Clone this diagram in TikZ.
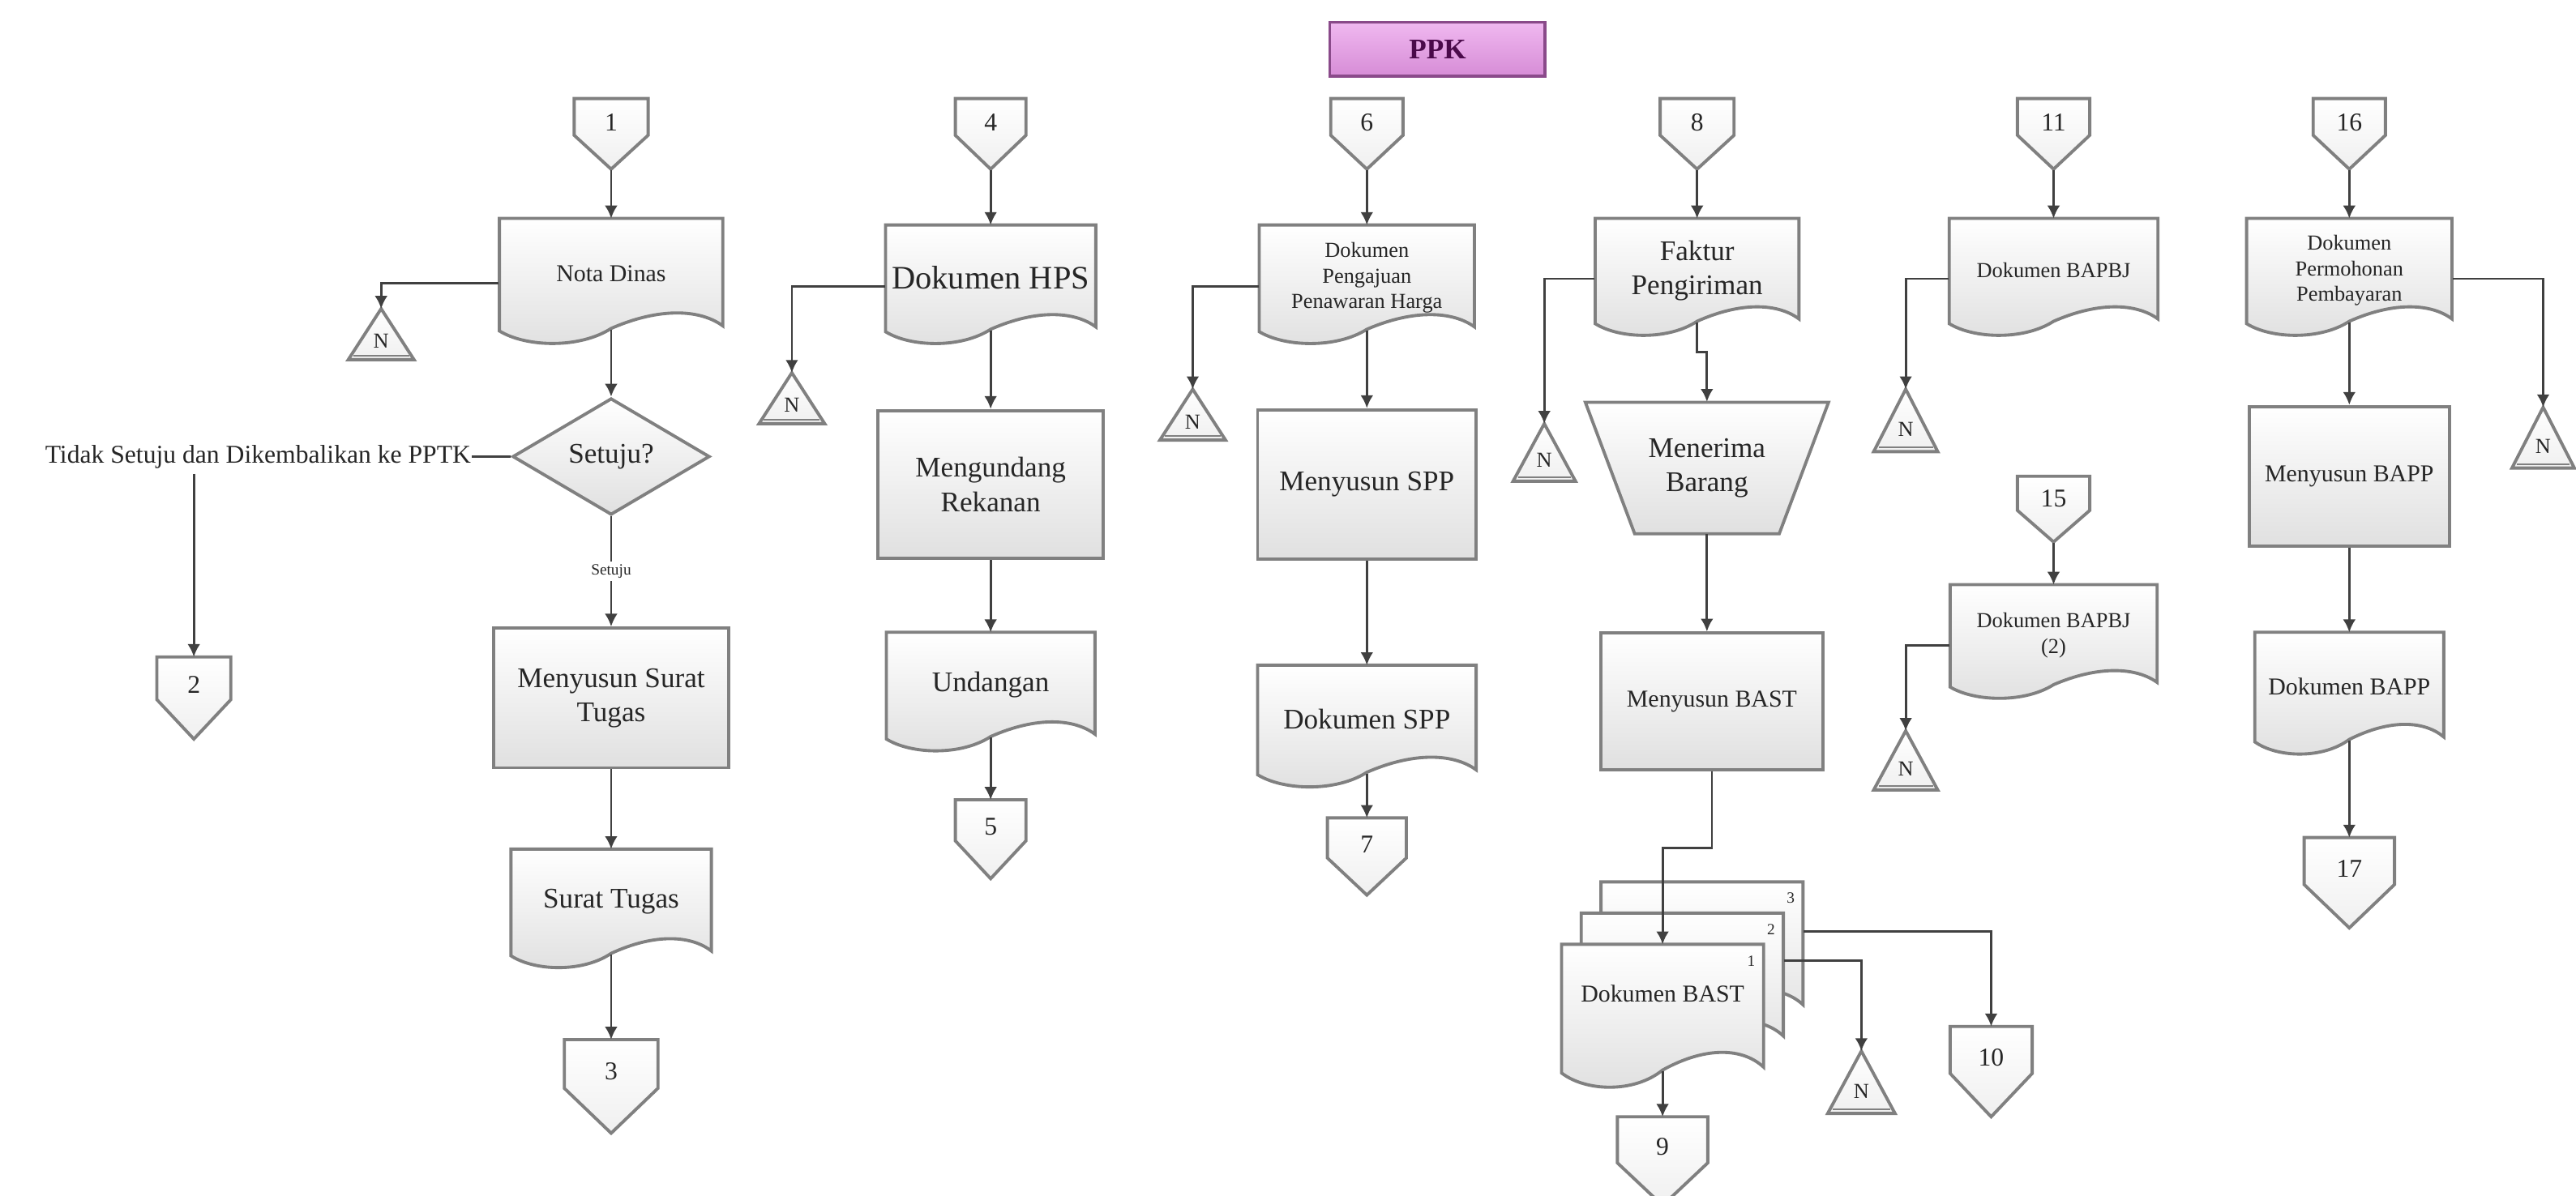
\documentclass[tikz,border=0pt]{standalone}
\usepackage{fontspec}
\setmainfont{Liberation Serif}
\usetikzlibrary{arrows.meta,calc,shapes.geometric}

% one drawing unit, expressed as a length for node sizes
\newlength\upx
\setlength\upx{0.5767pt}

\definecolor{edgegray}{HTML}{808080}
\definecolor{wiregray}{HTML}{404040}
\definecolor{shadelow}{HTML}{E0E0E0}
\definecolor{ppktop}{HTML}{F0B8F0}
\definecolor{ppkbottom}{HTML}{D68CD6}
\definecolor{ppkedge}{HTML}{8A4A8A}
\definecolor{ppktext}{HTML}{4A0A4A}
\definecolor{ink}{HTML}{262626}

\tikzset{
  shapeline/.style={draw=edgegray, line width=1.1pt, top color=white, bottom color=shadelow},
  conline/.style={draw=edgegray, line width=1.1pt, top color=white, bottom color=white!94!black},
  flow/.style={draw=wiregray, line width=0.8pt, -{Latex[length=4.5pt,width=4.5pt]}},
  wire/.style={draw=wiregray, line width=0.8pt},
  tbig/.style={font=\fontsize{11.5}{13}\selectfont, text=ink, align=center, inner sep=0pt},
  tmain/.style={font=\fontsize{10}{12}\selectfont, text=ink, align=center, inner sep=0pt},
  tmid/.style={font=\fontsize{8.5}{10}\selectfont, text=ink, align=center, inner sep=0pt},
  tsmall/.style={font=\fontsize{7.5}{9}\selectfont, text=ink, align=center, inner sep=0pt},
  ttiny/.style={font=\fontsize{5.5}{6.5}\selectfont, text=ink, align=center, inner sep=1pt},
  tnum/.style={font=\fontsize{9}{10}\selectfont, text=ink, inner sep=0pt},
  process/.style={shapeline, rectangle},
}

% document symbol: name, centre x, top y, width, height, text style, text
\newcommand\flowdoc[7]{%
  \path[shapeline]
    ({#2-#4/2},#3) -- ({#2+#4/2},#3) -- ({#2+#4/2},{#3+0.85*#5})
    .. controls ({#2+0.40*#4},{#3+0.72*#5}) and ({#2+0.22*#4},{#3+0.70*#5}) .. (#2,{#3+0.87*#5})
    .. controls ({#2-0.14*#4},{#3+1.03*#5}) and ({#2-0.38*#4},{#3+1.02*#5}) .. ({#2-#4/2},{#3+0.89*#5})
    -- cycle;
  \node[#6, minimum width=#4*\upx, minimum height=0.87*#5*\upx, anchor=north] (#1) at (#2,#3) {#7};
}

% off-page connector: name, centre x, top y, width, height, number
\newcommand\offpage[6]{%
  \path[conline] ({#2-#4/2},#3) -- ({#2+#4/2},#3) -- ({#2+#4/2},{#3+0.52*#5})
    -- (#2,{#3+#5}) -- ({#2-#4/2},{#3+0.52*#5}) -- cycle;
  \node[inner sep=0pt, minimum width=#4*\upx, minimum height=#5*\upx, anchor=north] (#1) at (#2,#3) {};
  \node[tnum] (#1t) at (#2,{#3+0.34*#5}) {#6};
}

% offline file (triangle N): name, apex x, apex y, width, height
\newcommand\offline[5]{%
  \path[conline] (#2,#3) -- ({#2+#4/2},{#3+#5}) -- ({#2-#4/2},{#3+#5}) -- cycle;
  \draw[edgegray, line width=0.6pt] ({#2-#4/2+3},{#3+#5-2.5}) -- ({#2+#4/2-3},{#3+#5-2.5});
  \node[inner sep=0pt, minimum width=#4*\upx, minimum height=#5*\upx, anchor=north] (#1) at (#2,#3) {};
  \node[tsmall] (#1t) at (#2,{#3+0.64*#5}) {N};
}

\begin{document}
\begin{tikzpicture}[x=0.020268cm, y=-0.020268cm]
\fill[white] (0,0) rectangle (1568,728);
\useasboundingbox (0,0) rectangle (1568,728);

% header
\node[draw=ppkedge, line width=1pt, top color=ppktop, bottom color=ppkbottom,
      minimum width=131*\upx, minimum height=33*\upx,
      font=\fontsize{10}{12}\selectfont\bfseries, text=ppktext] (ppk) at (875,30) {PPK};

% ---------- column 1: Nota Dinas ----------
\offpage{cone}{372}{60}{45}{43}{1}
\flowdoc{nota}{372}{133}{136}{77}{tmid}{Nota Dinas}
\offline{nA}{232}{188}{40}{31}
\node[shapeline, diamond, tmain, minimum width=120*\upx, minimum height=71*\upx] (setuju) at (372,278) {Setuju?};
\node[tnum, anchor=east] (tolak) at (287,278) {Tidak Setuju dan Dikembalikan ke PPTK};
\offpage{ctwo}{118}{400}{45}{50}{2}
\node[process, tmain, minimum width=143*\upx, minimum height=85*\upx] (susunst) at (372,425) {Menyusun Surat\\Tugas};
\flowdoc{surat}{372}{517}{122}{73}{tmain}{Surat Tugas}
\offpage{cthree}{372}{633}{57}{57}{3}

\draw[flow] (cone.south) -- (nota.north);
\draw[flow] ($(nota.north west)!0.58!(nota.south west)$) -| (nA.north);
\draw[flow] (nota.south) -- (setuju.north);
\draw[wire] (setuju.west) -- (tolak.east);
\draw[flow] ($(tolak.south -| ctwo.north)+(0,3)$) -- (ctwo.north);
\draw[flow] (setuju.south) -- node[ttiny, fill=white] (setujulbl) {Setuju} (susunst.north);
\draw[flow] (susunst.south) -- (surat.north);
\draw[flow] (surat.south) -- (cthree.north);

% ---------- column 2: HPS ----------
\offpage{cfour}{603}{60}{43}{43}{4}
\flowdoc{hps}{603}{137}{128}{73}{tbig}{Dokumen HPS}
\offline{nB}{482}{227}{40}{31}
\node[process, tmain, minimum width=137*\upx, minimum height=90*\upx] (undang) at (603,295) {Mengundang\\Rekanan};
\flowdoc{undangan}{603}{385}{127}{73}{tmain}{Undangan}
\offpage{cfive}{603}{487}{43}{48}{5}

\draw[flow] (cfour.south) -- (hps.north);
\draw[flow] ($(hps.north west)!0.58!(hps.south west)$) -| (nB.north);
\draw[flow] (hps.south) -- (undang.north);
\draw[flow] (undang.south) -- (undangan.north);
\draw[flow] (undangan.south) -- (cfive.north);

% ---------- column 3: SPP ----------
\offpage{csix}{832}{60}{44}{43}{6}
\flowdoc{ajuan}{832}{137}{131}{73}{tsmall}{Dokumen\\Pengajuan\\Penawaran Harga}
\offline{nC}{726}{237}{40}{31}
\node[process, tmain, minimum width=133*\upx, minimum height=91*\upx] (spp) at (832,295) {Menyusun SPP};
\flowdoc{dspp}{832}{405}{133}{75}{tmain}{Dokumen SPP}
\offpage{cseven}{832}{498}{48}{47}{7}

\draw[flow] (csix.south) -- (ajuan.north);
\draw[flow] ($(ajuan.north west)!0.58!(ajuan.south west)$) -| (nC.north);
\draw[flow] (ajuan.south) -- (spp.north);
\draw[flow] (spp.south) -- (dspp.north);
\draw[flow] (dspp.south) -- (cseven.north);

% ---------- column 4: BAST ----------
\offpage{ceight}{1033}{60}{45}{43}{8}
\flowdoc{faktur}{1033}{133}{124}{72}{tmain}{Faktur\\Pengiriman}
\offline{nD}{940}{258}{38}{35}
\path[shapeline] (965,245) -- (1113,245) -- (1083,325) -- (995,325) -- cycle;
\node[tmain, minimum width=148*\upx, minimum height=80*\upx] (terima) at (1039,285) {Menerima\\Barang};
\node[process, tmid, minimum width=135*\upx, minimum height=83*\upx] (bast) at (1042,427) {Menyusun BAST};
\flowdoc{bastc}{1036}{537}{123}{88}{tmid}{}
\flowdoc{bastb}{1024}{556}{123}{88}{tmid}{}
\flowdoc{basta}{1012}{575}{123}{88}{tmid}{\raisebox{10pt}{Dokumen BAST}}
\node[ttiny] (bastcn) at (1090,547) {3};
\node[ttiny] (bastbn) at (1078,566) {2};
\node[ttiny] (bastan) at (1066,585) {1};
\offpage{cnine}{1012}{680}{55}{54}{9}
\offpage{cten}{1212}{625}{50}{55}{10}
\offline{nE}{1133}{640}{41}{38}

\draw[flow] (ceight.south) -- (faktur.north);
\draw[flow] ($(faktur.north west)!0.58!(faktur.south west)$) -| (nD.north);
\draw[flow] (faktur.south) -- ++(0,18) -| (terima.north);
\draw[flow] (terima.south) -- (terima.south |- bast.north);
\draw[flow] (bast.south) -- ++(0,47) -| (basta.north);
\draw[flow] (basta.south) -- (cnine.north);
\draw[flow] ($(bastc.north east)+(0,30)$) -| (cten.north);
\draw[flow] ($(bastb.north east)+(0,29)$) -| (nE.north);

% ---------- column 5: BAPBJ ----------
\offpage{celeven}{1250}{60}{44}{43}{11}
\flowdoc{bapb}{1250}{133}{127}{72}{tsmall}{Dokumen BAPBJ}
\offline{nF}{1160}{237}{39}{38}
\offpage{cfifteen}{1250}{290}{44}{40}{15}
\flowdoc{bapbdua}{1250}{356}{126}{70}{tsmall}{Dokumen BAPBJ\\(2)}
\offline{nG}{1160}{445}{39}{36}

\draw[flow] (celeven.south) -- (bapb.north);
\draw[flow] ($(bapb.north west)!0.58!(bapb.south west)$) -| (nF.north);
\draw[flow] (cfifteen.south) -- (bapbdua.north);
\draw[flow] ($(bapbdua.north west)!0.6!(bapbdua.south west)$) -| (nG.north);

% ---------- column 6: BAPP ----------
\offpage{csixteen}{1430}{60}{44}{43}{16}
\flowdoc{mohon}{1430}{133}{125}{72}{tsmall}{Dokumen\\Permohonan\\Pembayaran}
\offline{nH}{1548}{248}{38}{37}
\node[process, tmid, minimum width=122*\upx, minimum height=85*\upx] (bapp) at (1430,290) {Menyusun BAPP};
\flowdoc{dbapp}{1430}{385}{115}{75}{tmid}{Dokumen BAPP}
\offpage{cseventeen}{1430}{510}{55}{55}{17}

\draw[flow] (csixteen.south) -- (mohon.north);
\draw[flow] ($(mohon.north east)!0.58!(mohon.south east)$) -| (nH.north);
\draw[flow] (mohon.south) -- (bapp.north);
\draw[flow] (bapp.south) -- (dbapp.north);
\draw[flow] (dbapp.south) -- (cseventeen.north);
\end{tikzpicture}
\end{document}
